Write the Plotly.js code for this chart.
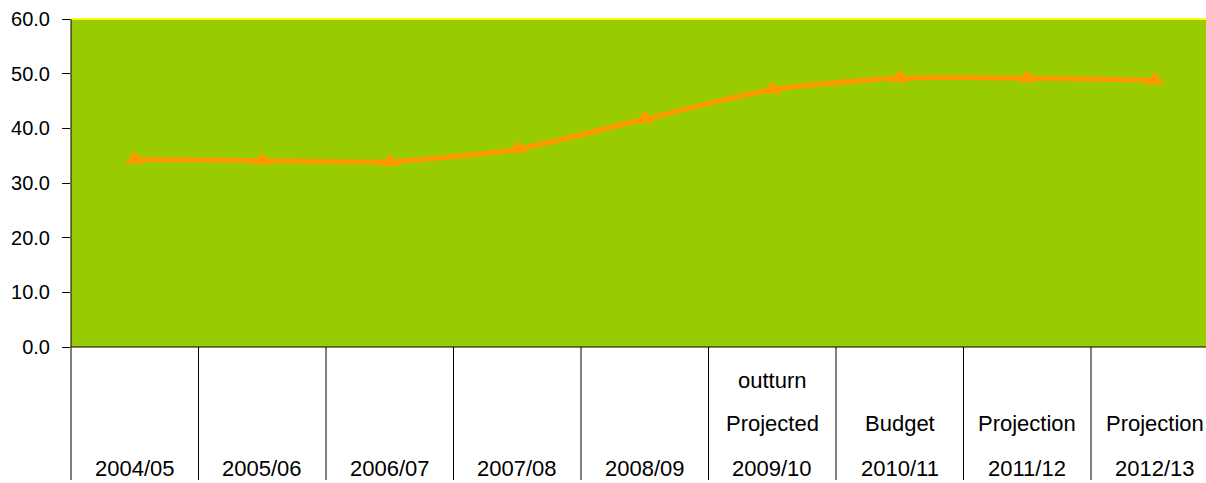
<!DOCTYPE html>
<html>
<head>
<meta charset="utf-8">
<script src="https://cdn.plot.ly/plotly-3.0.1.min.js"></script>
<style>
html,body{margin:0;padding:0;background:#fff;}
#chart{width:1206px;height:483px;}
</style>
</head>
<body>
<div id="chart"></div>
<script>
// Data
var years = ['2004/05','2005/06','2006/07','2007/08','2008/09','2009/10','2010/11','2011/12','2012/13'];
var labelRow2 = ['','','','','','Projected','Budget','Projection','Projection'];
var labelRow1 = ['','','','','','outturn','','',''];
var values = [34.3, 34.1, 33.9, 36.2, 41.7, 47.1, 49.2, 49.2, 48.8];
var yTicks = [0,10,20,30,40,50,60];

var W = 1206, H = 483;
var mL = 71, mR = 0, mT = 19, mB = 136;
var plotW = W - mL - mR, plotH = H - mT - mB;
var catW = 127.5;
var xMax = -0.5 + plotW / catW;

var xs = years.map(function(_, i){ return i; });

var trace = {
  x: xs, y: values, type: 'scatter', mode: 'lines+markers',
  line: {color: '#FF9900', width: 5, shape: 'spline', smoothing: 0.6},
  marker: {symbol: 'triangle-up', size: 17, color: '#FF9900'},
  hoverinfo: 'skip', cliponaxis: false
};

var font = {family: 'Liberation Sans, Arial, sans-serif', size: 20, color: '#000'};
var catFont = {family: 'Liberation Sans, Arial, sans-serif', size: 22, color: '#000'};
var bottomPaper = -(480 - (H - mB)) / plotH;

var shapes = [];
shapes.push({type:'line', xref:'paper', yref:'paper', x0:0, x1:1, y0:1, y1:1, line:{color:'#FFFF00', width:2}});
shapes.push({type:'line', xref:'paper', yref:'paper', x0:0, x1:1, y0:0, y1:0, line:{color:'#000', width:1}});
shapes.push({type:'line', xref:'paper', yref:'paper', x0:0, x1:0, y0:1, y1:bottomPaper, line:{color:'#000', width:1}});
for (var i = 0; i < years.length - 1; i++) {
  shapes.push({type:'line', xref:'x', yref:'paper', x0:i+0.5, x1:i+0.5, y0:0, y1:bottomPaper, line:{color:'#000', width:1}});
}

var annotations = [];
function addRow(arr, shift) {
  arr.forEach(function(t, i){
    if (!t) return;
    annotations.push({x:i, xref:'x', y:0, yref:'paper', yshift:shift, text:t, showarrow:false,
      xanchor:'center', yanchor:'middle', font:catFont});
  });
}
addRow(years, -121);
addRow(labelRow2, -76);
addRow(labelRow1, -33);

var layout = {
  width: W, height: H,
  margin: {l: mL, r: mR, t: mT, b: mB, pad: 0},
  paper_bgcolor: '#fff',
  plot_bgcolor: '#99CC00',
  showlegend: false,
  xaxis: {range: [-0.5, xMax], showticklabels: false, showgrid: false, zeroline: false, showline: false, ticks: '', fixedrange: true},
  yaxis: {range: [0, 60], tickvals: yTicks, ticktext: yTicks.map(function(v){return v.toFixed(1);}),
    ticks: 'outside', ticklen: 8, tickcolor: '#000', tickwidth: 1, ticklabelstandoff: 8,
    showgrid: false, zeroline: false, showline: false, tickfont: font, fixedrange: true},
  shapes: shapes,
  annotations: annotations
};

Plotly.newPlot('chart', [trace], layout, {displayModeBar: false, staticPlot: true});
</script>
</body>
</html>
